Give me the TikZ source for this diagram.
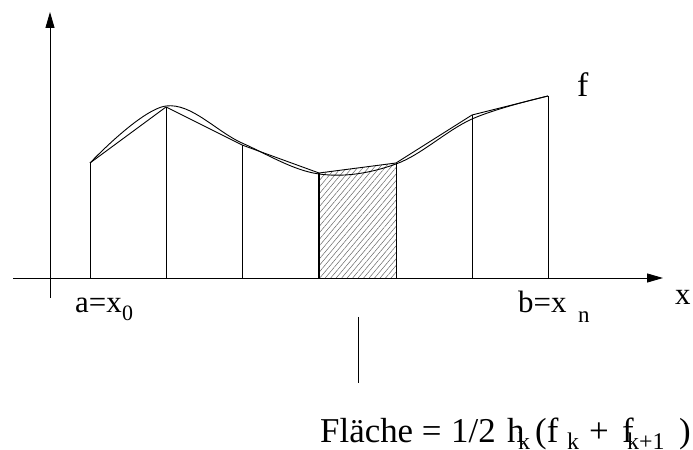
\documentclass[tikz,border=0pt]{standalone}
\usepackage{fontspec}
\setmainfont{Liberation Serif}
\usetikzlibrary{arrows.meta,patterns.meta}
\begin{document}
\begin{tikzpicture}[x=1bp,y=-1bp,
  ln/.style={line width=0.9bp,black},
  axis/.style={line width=0.9bp,black,-{Triangle[length=16bp,width=9bp]}},
  lbl/.style={inner sep=0pt,anchor=base west,font=\fontsize{31}{33}\selectfont},
  lblsub/.style={inner sep=0pt,anchor=base west,font=\fontsize{22}{24}\selectfont},
  fml/.style={inner sep=0pt,anchor=base west,font=\fontsize{35}{38}\selectfont},
  fmlsub/.style={inner sep=0pt,anchor=base west,font=\fontsize{24}{26}\selectfont},
  hatch/.style={pattern={Lines[angle=50,distance=4.2bp,line width=0.5bp]},pattern color=black!60}
]
\useasboundingbox (0,0) rectangle (693,450);
% points
\coordinate (p0) at (90,163);
\coordinate (p1) at (166,107);
\coordinate (p2) at (242,145);
\coordinate (p3) at (319,173);
\coordinate (p4) at (396,163);
\coordinate (p5) at (472,115);
\coordinate (p6) at (548,96);
\coordinate (q0) at (90,278);
\coordinate (q1) at (166,278);
\coordinate (q2) at (242,278);
\coordinate (q3) at (319,278);
\coordinate (q4) at (396,278);
\coordinate (q5) at (472,278);
\coordinate (q6) at (548,278);
% hatched trapezoid
\fill[hatch] (q3) -- (p3) -- (p4) -- (q4) -- cycle;
% axes
\coordinate (xs) at (13,278);
\coordinate (xe) at (663,278);
\coordinate (ys) at (50,298);
\coordinate (ye) at (50,12);
\draw[axis] (xs) -- (xe);
\draw[axis] (ys) -- (ye);
% verticals
\foreach \i in {0,...,6} { \draw[ln] (q\i) -- (p\i); }
\draw[ln,line width=1.2bp] (q3) -- (p3);
% polygon
\draw[ln,line join=round] (p0) -- (p1) -- (p2) -- (p3) -- (p4) -- (p5) -- (p6);
% smooth curve
\draw[ln] plot[smooth,tension=0.6] coordinates {(90,163) (166,106) (242,143) (319,174) (396,164) (472,119) (548,96)};
% pointer line
\coordinate (m1) at (358,317);
\coordinate (m2) at (358,383);
\draw[ln] (m1) -- (m2);
% labels
\node[lbl,anchor=base east] (la) at (122,313) {a=x};
\node[lblsub] (la0) at (122,321) {0};
\node[lbl] (lb) at (518,313) {b=x};
\node[lblsub,font=\fontsize{23}{24}\selectfont] (lbn) at (578,323) {n};
\node[lbl] (lx) at (675,305) {x};
\node[fml,font=\fontsize{34}{36}\selectfont] (lf) at (577,97) {f};
% formula
\node[fml] (f1) at (320,442) {Fläche =};
\node[fml] (f1b) at (451,442) {1/2};
\node[fml] (f2) at (507,442) {h};
\node[fmlsub] (f3) at (518,449) {k};
\node[fml] (f4) at (535,442) {(f};
\node[fmlsub] (f5) at (567,449) {k};
\node[fml] (f6) at (589,442) {+};
\node[fml] (f7) at (622,442) {f};
\node[fmlsub] (f8) at (627,449) {k+1};
\node[fml] (f9) at (679,442) {)};
\end{tikzpicture}
\end{document}
